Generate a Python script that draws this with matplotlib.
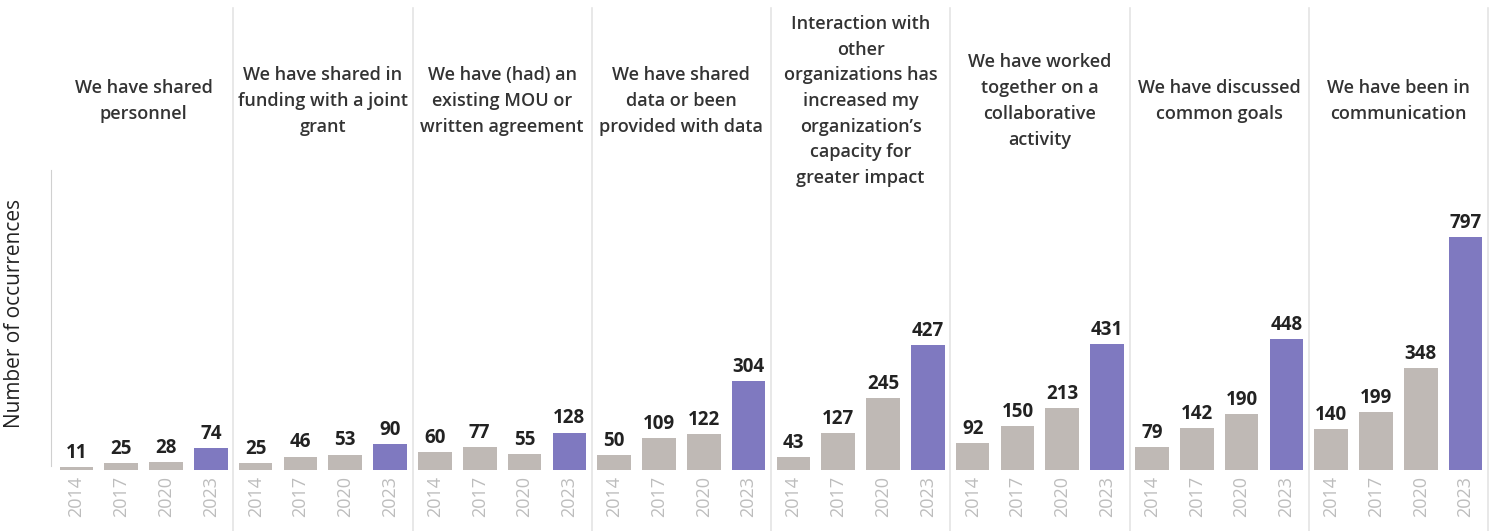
import matplotlib.pyplot as plt
from matplotlib.lines import Line2D

years = ["2014", "2017", "2020", "2023"]

titles = [
    "We have shared\npersonnel",
    "We have shared in\nfunding with a joint\ngrant",
    "We have (had) an\nexisting MOU or\nwritten agreement",
    "We have shared\ndata or been\nprovided with data",
    "Interaction with\nother\norganizations has\nincreased my\norganization\u2019s\ncapacity for\ngreater impact",
    "We have worked\ntogether on a\ncollaborative\nactivity",
    "We have discussed\ncommon goals",
    "We have been in\ncommunication",
]

shared_personnel = [11, 25, 28, 74]
joint_funding = [25, 46, 53, 90]
mou_agreement = [60, 77, 55, 128]
shared_data = [50, 109, 122, 304]
increased_capacity = [43, 127, 245, 427]
collaborative_activity = [92, 150, 213, 431]
common_goals = [79, 142, 190, 448]
communication = [140, 199, 348, 797]

panels = [shared_personnel, joint_funding, mou_agreement, shared_data,
          increased_capacity, collaborative_activity, common_goals, communication]

GRAY = "#bfb9b5"
PURPLE = "#7f79c0"
SEP = "#e4e4e4"

W, H = 1495, 531
fig = plt.figure(figsize=(W / 100, H / 100), dpi=100)
plt.rcParams['font.family'] = ['Open Sans', 'DejaVu Sans']

left_px, right_px = 54, 1488
base_px, top_px = 470, 170
panel_w = (right_px - left_px) / len(panels)

for i, (vals, title) in enumerate(zip(panels, titles)):
    x0 = left_px + i * panel_w
    ax = fig.add_axes([x0 / W, (H - base_px) / H, panel_w / W, (base_px - top_px) / H])
    colors = [GRAY] * (len(vals) - 1) + [PURPLE]
    bars = ax.bar(range(len(vals)), vals, width=0.75, color=colors)
    for b, v in zip(bars, vals):
        ax.annotate(str(v), (b.get_x() + b.get_width() / 2, v), xytext=(0, 3),
                    textcoords="offset points", ha="center", va="bottom",
                    fontsize=13.5, fontweight="bold", color="#222222")
    ax.set_xlim(-0.5, len(vals) - 0.5)
    ax.set_ylim(0, 1026)
    ax.set_xticks(range(len(vals)))
    ax.set_xticklabels(years, rotation=90, fontsize=13, color="#bdbdbd")
    ax.tick_params(axis="x", length=0, pad=4)
    ax.set_yticks([])
    for s in ["top", "right", "bottom", "left"]:
        ax.spines[s].set_visible(False)
    if i == 0:
        ax.spines["left"].set_visible(True)
        ax.spines["left"].set_color("#d0d0d0")
        ax.spines["left"].set_bounds(15, 1026)
        ax.spines["left"].set_position(("outward", 2))
    ax.text(0.5, (base_px - 101) / (base_px - top_px), title, transform=ax.transAxes,
            ha="center", va="center", fontsize=13, fontweight="semibold",
            color="#333333", linespacing=1.55)

# panel separators
for i in range(1, len(panels) + 1):
    x = (left_px + i * panel_w) / W
    fig.add_artist(Line2D([x, x], [0, (H - 8) / H], color=SEP, lw=1.2))

fig.text(15 / W, (H - 313) / H, "Number of occurrences", rotation=90,
         ha="center", va="center", fontsize=15, color="#222222")

fig.savefig("out.png", dpi=100)
